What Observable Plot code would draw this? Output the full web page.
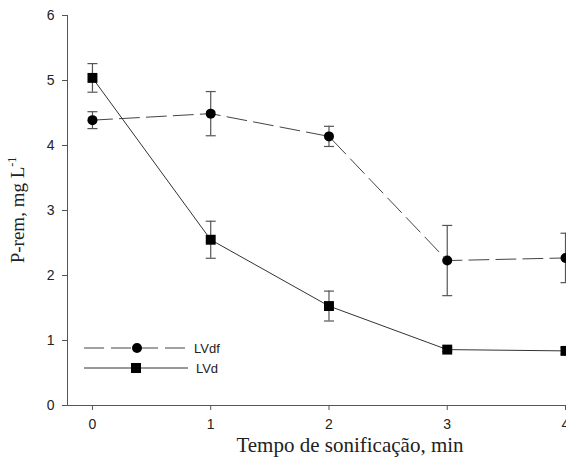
<!DOCTYPE html>
<html>
<head>
<meta charset="utf-8">
<script src="https://cdn.jsdelivr.net/npm/d3@7"></script>
<script src="https://cdn.jsdelivr.net/npm/@observablehq/plot@0.6"></script>
<style>
  html, body { margin: 0; padding: 0; background: white; overflow: hidden; }
  #chart { width: 566px; height: 460px; }
</style>
</head>
<body>
<div id="chart"></div>
<script>
const times = [0, 1, 2, 3, 4];
const xTicks = [0, 1, 2, 3, 4];
const yTicks = [0, 1, 2, 3, 4, 5, 6];
const lvdf = [4.39, 4.49, 4.14, 2.23, 2.27];
const lvdfErr = [0.13, 0.34, 0.155, 0.54, 0.38];
const lvd = [5.04, 2.55, 1.53, 0.86, 0.84];
const lvdErr = [0.22, 0.285, 0.23, 0.03, 0.05];
const seriesNames = ["LVdf", "LVd"];
const xLabel = "Tempo de sonificação, min";
const yLabel = "P-rem, mg L";
const yLabelSup = "-1";

const rows = times.flatMap((t, i) => [
  {t, s: "LVdf", v: lvdf[i], e: lvdfErr[i]},
  {t, s: "LVd", v: lvd[i], e: lvdErr[i]}
]);
const rowsDf = rows.filter(d => d.s === "LVdf");
const rowsD = rows.filter(d => d.s === "LVd");

const cap = {draw(ctx) { ctx.moveTo(-5, 0); ctx.lineTo(5, 0); }};

const chart = Plot.plot({
  width: 566,
  height: 460,
  marginLeft: 67,
  marginRight: 1,
  marginTop: 15,
  marginBottom: 55,
  style: {fontFamily: "'Liberation Sans', Arial, sans-serif", fontSize: "13px", color: "#222", background: "white", overflow: "hidden"},
  x: {domain: [-0.211, 4]},
  y: {domain: [0, 6]},
  marks: [
    Plot.axisY({ticks: yTicks, tickFormat: d => String(d), tickSize: 5, tickPadding: 8, label: null, stroke: "#555", fontSize: 14}),
    Plot.axisX({ticks: xTicks, tickFormat: d => String(d), tickSize: 5, tickPadding: 9, label: null, stroke: "#555", fontSize: 14}),
    Plot.frame({anchor: "left", stroke: "#555"}),
    Plot.frame({anchor: "bottom", stroke: "#555"}),
    Plot.ruleX(rows, {x: "t", y1: d => d.v - d.e, y2: d => d.v + d.e, stroke: "#555", strokeWidth: 1.2}),
    Plot.dot(rows, {x: "t", y: d => d.v + d.e, symbol: cap, fill: "none", stroke: "#555", strokeWidth: 1.2}),
    Plot.dot(rows, {x: "t", y: d => d.v - d.e, symbol: cap, fill: "none", stroke: "#555", strokeWidth: 1.2}),
    Plot.line(rowsDf, {x: "t", y: "v", stroke: "#444", strokeWidth: 1, strokeDasharray: "20,7"}),
    Plot.line(rowsD, {x: "t", y: "v", stroke: "#333", strokeWidth: 1}),
    Plot.dot(rowsDf, {x: "t", y: "v", symbol: "circle", r: 5, fill: "black", stroke: "none"}),
    Plot.dot(rowsD, {x: "t", y: "v", symbol: "square", r: 5.6, fill: "black", stroke: "none"})
  ]
});
document.getElementById("chart").appendChild(chart);

const svg = d3.select(chart);
// y-axis label
const yl = svg.append("text")
  .attr("transform", "translate(24,210) rotate(-90)")
  .attr("text-anchor", "middle")
  .attr("font-family", "'Liberation Serif', 'Times New Roman', serif")
  .attr("font-size", 19)
  .attr("fill", "#222");
yl.append("tspan").text(yLabel);
yl.append("tspan").attr("dy", -8).attr("font-size", 12).text(yLabelSup);
// x-axis label
svg.append("text")
  .attr("x", 350).attr("y", 452)
  .attr("text-anchor", "middle")
  .attr("font-family", "'Liberation Serif', 'Times New Roman', serif")
  .attr("font-size", 21)
  .attr("fill", "#222")
  .text(xLabel);
// legend
const leg = svg.append("g").attr("font-family", "'Liberation Sans', Arial, sans-serif").attr("font-size", 13).attr("fill", "#222");
const legY = [348, 368];
leg.append("line").attr("x1", 84).attr("x2", 188).attr("y1", legY[0]).attr("y2", legY[0]).attr("stroke", "#444").attr("stroke-dasharray", "20,7");
leg.append("circle").attr("cx", 137).attr("cy", legY[0]).attr("r", 5).attr("fill", "black");
leg.append("text").attr("x", 207).attr("y", legY[0]).attr("dy", "0.35em").text(seriesNames[0]);
leg.append("line").attr("x1", 84).attr("x2", 188).attr("y1", legY[1]).attr("y2", legY[1]).attr("stroke", "#333");
leg.append("rect").attr("x", 131).attr("y", legY[1] - 5).attr("width", 10).attr("height", 10).attr("fill", "black");
leg.append("text").attr("x", 207).attr("y", legY[1]).attr("dy", "0.35em").text(seriesNames[1]);
</script>
</body>
</html>
